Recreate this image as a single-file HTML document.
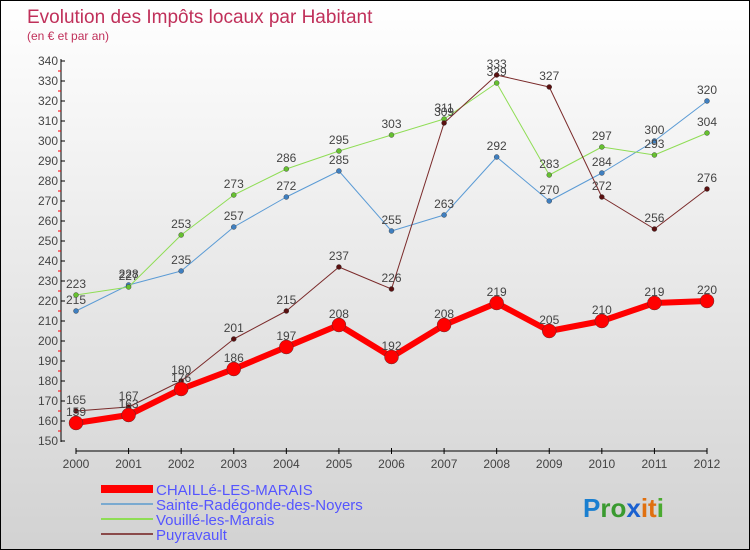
<!DOCTYPE html>
<html><head><meta charset="utf-8"><style>
body{margin:0}
#c{position:relative;width:750px;height:550px;box-sizing:border-box;border:1px solid #000;background:linear-gradient(#fff,#d2d2d2);font-family:"Liberation Sans",sans-serif;overflow:hidden}
svg{position:absolute;left:0;top:0}
</style></head><body>
<div id="c">
<svg id="s" width="750" height="550">
<text x="26" y="22" font-size="19" fill="#c0305a">Evolution des Impôts locaux par Habitant</text>
<text x="26" y="39" font-size="12" fill="#c0305a">(en € et par an)</text>
</svg>
</div>
<script>
const years=[2000,2001,2002,2003,2004,2005,2006,2007,2008,2009,2010,2011,2012];
const chaille=[159,163,176,186,197,208,192,208,219,205,210,219,220];
const sainte=[215,228,235,257,272,285,255,263,292,270,284,300,320];
const vouille=[223,227,253,273,286,295,303,311,329,283,297,293,304];
const puyravault=[165,167,180,201,215,237,226,309,333,327,272,256,276];
const yTicks=[150,160,170,180,190,200,210,220,230,240,250,260,270,280,290,300,310,320,330,340];
const seriesNames=["CHAILLé-LES-MARAIS","Sainte-Radégonde-des-Noyers","Vouillé-les-Marais","Puyravault"];
const NS="http://www.w3.org/2000/svg";
const s=document.getElementById('s');
function xS(i){return 75+i*(706-75)/(years.length-1);}
function yS(v){return 440-(v-150)*2;}
function mk(t,a,p){const e=document.createElementNS(NS,t);for(const k in a)e.setAttribute(k,a[k]);(p||s).appendChild(e);return e;}
// axes
let ax=mk('line',{x1:60,y1:58,x2:60,y2:441,stroke:'#000','stroke-width':1});


yTicks.forEach(v=>{
  mk('line',{x1:60,y1:yS(v),x2:64,y2:yS(v),stroke:'#000'});
  if(v<340) mk('line',{x1:57,y1:yS(v+5),x2:60,y2:yS(v+5),stroke:'#f00'});
  const t=mk('text',{x:57,y:yS(v)+4,'font-size':12,'text-anchor':'end',fill:'#444'});
  t.textContent=v;
  
  
});
let xa=mk('line',{x1:75,y1:450,x2:706,y2:450,stroke:'#000'});


years.forEach((y,i)=>{
  mk('line',{x1:xS(i),y1:447,x2:xS(i),y2:453,stroke:'#000'});
  const t=mk('text',{x:xS(i),y:467,'font-size':12,'text-anchor':'middle',fill:'#444'});
  t.textContent=y;
  
  
});
const defs=[[sainte,'#5b9bd5',1,2.5,'#3f7fc0','sainte'],[vouille,'#8fdd55',1,2.5,'#66c030','vouille'],[puyravault,'#7a2a2a',1,2.5,'#5a1010','puyravault'],[chaille,'#f00',6,7,'#f00','chaille']];
defs.forEach(([d,col,w,r,pc,nm])=>{
  const g=mk('g',{});
  
  
  const pl=mk('polyline',{points:d.map((v,i)=>xS(i)+','+yS(v)).join(' '),fill:'none',stroke:col,'stroke-width':w,'stroke-linejoin':'round'},g);
  
  
  d.forEach((v,i)=>{
    const c=mk('circle',{cx:xS(i),cy:yS(v),r:r,fill:pc,stroke:'#333','stroke-width':0.4},g);
    
    
    const t=mk('text',{x:xS(i),y:yS(v)-7,'font-size':12,'text-anchor':'middle',fill:'#444'},g);
    t.textContent=v;
    
    
  });
});
// legend
const lc=['#f00','#7aaad0','#8fdd55','#8a4a4a'],lw=[8,2,2,2],ly=[493,508,523,538];
seriesNames.forEach((n,i)=>{
  const g=mk('g',{});
  
  
  mk('line',{x1:100,y1:ly[i]-5,x2:152,y2:ly[i]-5,stroke:lc[i],'stroke-width':lw[i]},g);
  const t=mk('text',{x:155,y:ly[i]+1,'font-size':15,fill:'#5555ff'},g);
  t.textContent=n;
});
const lg=mk('text',{x:582,y:516,'font-size':26,'font-weight':'bold'});


[['P','#1a7fd0'],['ro','#3a9a30'],['x','#1a60d0'],['i','#e07010'],['t','#e07010'],['i','#4aaa30']].forEach(([c,f])=>{const sp=mk('tspan',{fill:f},lg);sp.textContent=c;});
</script>
</body></html>
